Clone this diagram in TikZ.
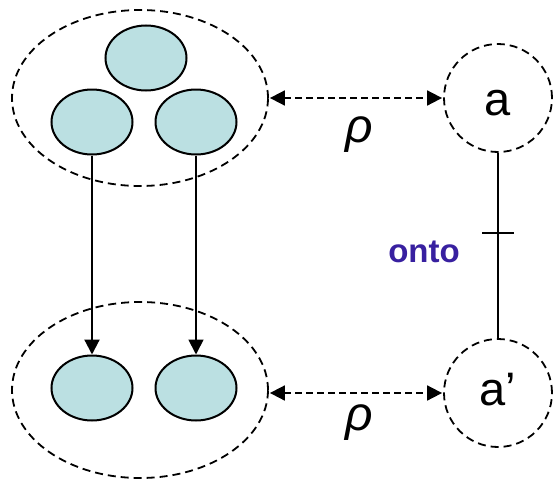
\documentclass[tikz,border=0pt]{standalone}
\usepackage{fontspec}
\setmainfont{Liberation Sans}
\usetikzlibrary{arrows.meta,shapes.geometric}
\definecolor{cellfill}{RGB}{187,224,226}
\definecolor{ontocol}{RGB}{56,32,160}
\begin{document}
\begin{tikzpicture}[x=1pt,y=-1pt,
  cell/.style={ellipse,draw,line width=2pt,fill=cellfill,minimum width=81pt,minimum height=65pt,inner sep=0pt},
  group/.style={ellipse,draw,dash pattern=on 8pt off 5pt,line width=1.8pt,minimum width=256pt,minimum height=176pt,inner sep=0pt},
  elem/.style={circle,draw,dash pattern=on 8pt off 5pt,line width=1.8pt,minimum size=108pt,inner sep=0pt,font=\fontsize{47}{50}\selectfont},
  dasharrow/.style={dash pattern=on 7pt off 4pt,line width=1.8pt,{Triangle[length=15pt,width=15pt]}-{Triangle[length=15pt,width=15pt]},shorten <=1pt,shorten >=1pt},
  maparrow/.style={line width=2.2pt,-{Triangle[length=15pt,width=15pt]}},
  rholabel/.style={font=\fontsize{48}{50}\selectfont\itshape}
]
\useasboundingbox (0,0) rectangle (554,479);
% groups
\node[group] (g1) at (140,98) {};
\node[group] (g2) at (140,390) {};
% cells
\node[cell] (t1) at (146,58) {};
\node[cell] (t2) at (92,122) {};
\node[cell] (t3) at (196,122) {};
\node[cell] (b1) at (92,388) {};
\node[cell] (b2) at (196,388) {};
% elements
\node[elem,text height=34pt,text depth=0pt] (ea) at (498,98) {a};
\node[elem,text height=24pt,text depth=0pt] (eb) at (498,393) {a’};
% maps
\draw[maparrow] (t2.south) -- (b1.north);
\draw[maparrow,line width=1.8pt] (t3.south) -- (b2.north);
% correspondences
\draw[dasharrow] (g1.east) -- (ea.west);
\draw[dasharrow] (g2.east |- eb.west) -- (eb.west);
\node[rholabel] (r1) at (359,135) {ρ};
\node[rholabel] (r2) at (359,423) {ρ};
% onto
\draw[line width=1.6pt] (ea.south) -- (eb.north);
\coordinate (tk) at (498,233);
\draw[line width=1.8pt] ([xshift=-16pt]tk) -- ([xshift=16pt]tk);
\node[font=\fontsize{33}{36}\bfseries\selectfont,text=ontocol] (onto) at (424,252) {onto};
\end{tikzpicture}
\end{document}
